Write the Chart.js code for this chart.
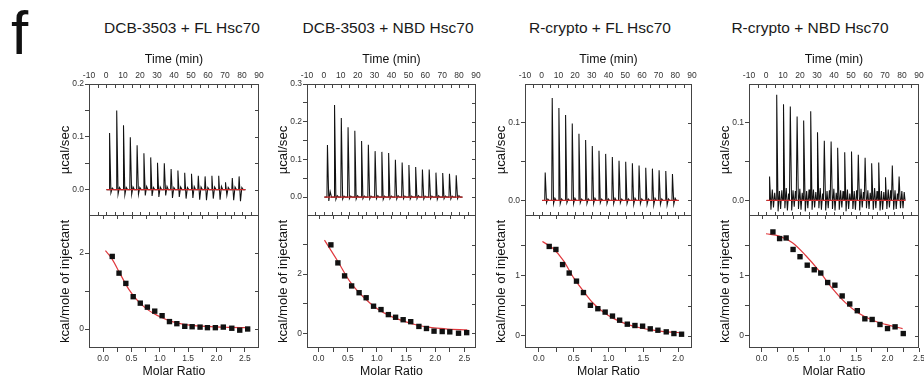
<!DOCTYPE html>
<html>
<head>
<meta charset="utf-8">
<script src="https://cdn.jsdelivr.net/npm/chart.js@4.4.1/dist/chart.umd.min.js"></script>
<style>
body { margin: 0; background: #fff; width: 924px; height: 379px; overflow: hidden; position: relative; font-family: "Liberation Sans", Arial, sans-serif; }
.box { position: absolute; }
.ttl { position: absolute; width: 240px; text-align: center; font-size: 15.5px; line-height: 18px; top: 19px; color: #1a1a1a; }
#tag { position: absolute; left: 11px; top: -2px; font-size: 62px; line-height: 70px; color: #111; }
</style>
</head>
<body>
<div id="tag">f</div>
<div class="ttl" style="left:62px">DCB-3503 + FL Hsc70</div>
<div class="ttl" style="left:268px">DCB-3503 + NBD Hsc70</div>
<div class="ttl" style="left:480px">R-crypto + FL Hsc70</div>
<div class="ttl" style="left:690px">R-crypto + NBD Hsc70</div>
<script>
// injection times (min) and raw trace readings
var injTime = [1.8, 6, 10, 14, 18, 22, 26, 30, 34, 38, 42, 46, 50, 54, 58, 62, 66, 70, 74, 78];
var baseSpan = [0.3, 82];
var timeTicks = [-10, 0, 10, 20, 30, 40, 50, 60, 70, 80, 90];

var p1Peak = [0.107, 0.150, 0.122, 0.099, 0.084, 0.069, 0.061, 0.051, 0.050, 0.039, 0.036, 0.032, 0.030, 0.026, 0.025, 0.026, 0.026, 0.014, 0.022, 0.025];
var p1Dip = [-0.006, -0.009, -0.010, -0.009, -0.009, -0.011, -0.012, -0.014, -0.011, -0.016, -0.014, -0.017, -0.016, -0.019, -0.020, -0.017, -0.019, -0.011, -0.020, -0.022];
var p1Bump = [0.003, 0.004, 0.004, 0.005, 0.004, 0.006, 0.004, 0.005, 0.006, 0.004, 0.005, 0.004, 0.006, 0.005, 0.004, 0.005, 0.006, 0.004, 0.005, 0.004];

var p2Peak = [0.138, 0.244, 0.210, 0.185, 0.176, 0.149, 0.139, 0.122, 0.120, 0.117, 0.099, 0.092, 0.085, 0.080, 0.073, 0.073, 0.065, 0.064, 0.062, 0.058];
var p2Dip = [-0.010, -0.006, -0.005, -0.004, -0.005, -0.004, -0.005, -0.004, -0.006, -0.004, -0.005, -0.004, -0.005, -0.004, -0.005, -0.004, -0.006, -0.004, -0.005, -0.004];
var p2Bump = [0.015, 0.004, 0.003, 0.003, 0.004, 0.003, 0.003, 0.004, 0.003, 0.003, 0.004, 0.003, 0.003, 0.004, 0.003, 0.003, 0.004, 0.003, 0.003, 0.004];

var p3Peak = [0.036, 0.132, 0.119, 0.110, 0.099, 0.086, 0.078, 0.070, 0.064, 0.060, 0.056, 0.051, 0.050, 0.048, 0.045, 0.042, 0.041, 0.039, 0.038, 0.034];
var p3Dip = [-0.003, -0.004, -0.004, -0.003, -0.004, -0.003, -0.004, -0.004, -0.003, -0.004, -0.004, -0.003, -0.004, -0.005, -0.004, -0.005, -0.006, -0.005, -0.006, -0.005];
var p3Bump = [0.002, 0.003, 0.002, 0.002, 0.003, 0.002, 0.002, 0.003, 0.002, 0.002, 0.003, 0.002, 0.002, 0.003, 0.002, 0.002, 0.003, 0.002, 0.002, 0.003];

var p4Peak = [0.031, 0.136, 0.124, 0.121, 0.108, 0.103, 0.115, 0.088, 0.077, 0.076, 0.068, 0.062, 0.063, 0.059, 0.055, 0.048, 0.049, 0.030, 0.045, 0.031];
var p4Dip = [-0.012, -0.014, -0.010, -0.013, -0.011, -0.014, -0.012, -0.010, -0.013, -0.011, -0.012, -0.014, -0.011, -0.013, -0.010, -0.012, -0.013, -0.011, -0.012, -0.010];
var p4Bump = [0.014, 0.012, 0.016, 0.013, 0.015, 0.012, 0.014, 0.016, 0.012, 0.015, 0.013, 0.014, 0.012, 0.015, 0.013, 0.016, 0.012, 0.014, 0.013, 0.012];
var p4Dip2 = [-0.009, -0.011, -0.013, -0.008, -0.012, -0.010, -0.009, -0.012, -0.010, -0.013, -0.009, -0.011, -0.012, -0.009, -0.011, -0.010, -0.012, -0.009, -0.011, -0.010];
var p4Bump2 = [0.010, 0.013, 0.009, 0.012, 0.010, 0.014, 0.011, 0.009, 0.013, 0.010, 0.012, 0.009, 0.013, 0.011, 0.010, 0.012, 0.011, 0.013, 0.009, 0.011];

// integrated heats (kcal/mole of injectant) vs molar ratio
var p1Ratio = [0.16, 0.28, 0.40, 0.53, 0.655, 0.78, 0.91, 1.04, 1.17, 1.30, 1.44, 1.57, 1.71, 1.84, 1.98, 2.12, 2.27, 2.41, 2.55];
var p1Heat = [1.91, 1.47, 1.20, 0.85, 0.68, 0.575, 0.47, 0.35, 0.195, 0.14, 0.07, 0.06, 0.05, 0.035, 0.035, 0.05, 0.02, -0.03, 0.0];
var p1FitX = [0.04, 0.15, 0.30, 0.45, 0.60, 0.75, 0.90, 1.05, 1.20, 1.40, 1.60, 1.90, 2.20, 2.55];
var p1FitY = [2.06, 1.86, 1.45, 1.05, 0.76, 0.55, 0.40, 0.29, 0.20, 0.13, 0.09, 0.06, 0.045, 0.035];

var p2Ratio = [0.21, 0.33, 0.445, 0.566, 0.694, 0.815, 0.942, 1.07, 1.196, 1.32, 1.45, 1.58, 1.72, 1.85, 1.98, 2.12, 2.25, 2.40, 2.54];
var p2Heat = [2.99, 2.38, 1.94, 1.60, 1.37, 1.20, 0.914, 0.80, 0.63, 0.54, 0.457, 0.39, 0.23, 0.16, 0.07, 0.057, 0.046, 0.0, 0.02];
var p2FitX = [0.10, 0.32, 0.55, 0.78, 1.01, 1.24, 1.47, 1.70, 1.94, 2.17, 2.55];
var p2FitY = [3.15, 2.46, 1.71, 1.20, 0.82, 0.57, 0.40, 0.27, 0.19, 0.15, 0.11];

var p3Ratio = [0.148, 0.244, 0.34, 0.435, 0.54, 0.64, 0.74, 0.847, 0.952, 1.057, 1.16, 1.27, 1.38, 1.49, 1.60, 1.71, 1.83, 1.94, 2.05];
var p3Heat = [1.48, 1.43, 1.18, 1.04, 0.906, 0.717, 0.506, 0.45, 0.394, 0.328, 0.26, 0.194, 0.172, 0.161, 0.117, 0.094, 0.067, 0.039, 0.028];
var p3FitX = [0.05, 0.20, 0.35, 0.50, 0.64, 0.78, 0.92, 1.07, 1.26, 1.45, 1.64, 1.83, 2.07];
var p3FitY = [1.56, 1.45, 1.25, 0.96, 0.74, 0.54, 0.40, 0.29, 0.195, 0.135, 0.095, 0.068, 0.052];

var p4Ratio = [0.18, 0.286, 0.39, 0.50, 0.61, 0.725, 0.836, 0.94, 1.05, 1.164, 1.28, 1.40, 1.52, 1.64, 1.756, 1.88, 2.0, 2.12, 2.25];
var p4Heat = [1.72, 1.61, 1.62, 1.43, 1.31, 1.17, 1.094, 1.04, 0.883, 0.839, 0.661, 0.528, 0.417, 0.283, 0.272, 0.189, 0.122, 0.15, 0.039];
var p4FitX = [0.07, 0.28, 0.49, 0.70, 0.91, 1.12, 1.33, 1.55, 1.76, 1.97, 2.24];
var p4FitY = [1.69, 1.65, 1.54, 1.33, 1.08, 0.79, 0.55, 0.37, 0.26, 0.19, 0.12];

// labelled tick values
var p1PowerTicks = [0.0, 0.1, 0.2];
var p2PowerTicks = [0.0, 0.1, 0.2, 0.3];
var p3PowerTicks = [0.0, 0.1];
var p4PowerTicks = [0.0, 0.1];
var p1HeatTicks = [0, 2];
var p2HeatTicks = [0, 2];
var p3HeatTicks = [0, 1];
var p4HeatTicks = [0, 1];
var p1RatioTicks = [0.0, 0.5, 1.0, 1.5, 2.0, 2.5];
var p2RatioTicks = [0.0, 0.5, 1.0, 1.5, 2.0, 2.5];
var p3RatioTicks = [0.0, 0.5, 1.0, 1.5, 2.0];
var p4RatioTicks = [0.0, 0.5, 1.0, 1.5, 2.0, 2.5];

Chart.defaults.font.family = '"Liberation Sans", Arial, sans-serif';
Chart.defaults.color = '#333';
Chart.defaults.animation = false;
Chart.defaults.plugins.legend.display = false;
Chart.defaults.plugins.tooltip.enabled = false;

var INK = '#444';

// box around the plot plus inward ticks on the other sides
var frame = {
    id: 'frame',
    afterDraw: function (chart, args, opts) {
        var ctx = chart.ctx, a = chart.chartArea;
        var l = Math.round(a.left) + 0.5, r = Math.round(a.right) - 0.5;
        var t = Math.round(a.top) + 0.5, b = Math.round(a.bottom) - 0.5;
        var xs = chart.scales.x, ys = chart.scales.y;
        ctx.save();
        ctx.strokeStyle = INK;
        ctx.lineWidth = 1;
        ctx.strokeRect(l, t, r - l, b - t);
        ctx.beginPath();
        xs.ticks.forEach(function (tk) {
            var px = Math.round(xs.getPixelForValue(tk.value)) + 0.5;
            if (px <= l + 1 || px >= r - 1) return;
            if (opts.top) { ctx.moveTo(px, t); ctx.lineTo(px, t + 3.5); }
            if (opts.bottom) { ctx.moveTo(px, b); ctx.lineTo(px, b - 3.5); }
        });
        ys.ticks.forEach(function (tk) {
            var py = Math.round(ys.getPixelForValue(tk.value)) + 0.5;
            if (py <= t + 1 || py >= b - 1) return;
            ctx.moveTo(r, py); ctx.lineTo(r - 3.5, py);
        });
        ctx.stroke();
        ctx.restore();
    }
};

function isIn(list, v) {
    return list.some(function (l) { return Math.abs(l - v) < 1e-9; });
}

function labelOn(list, dec) {
    return function (v) {
        if (!isIn(list, v)) return '';
        return (Math.abs(v) < 1e-9 ? 0 : v).toFixed(dec);
    };
}

function trimEdges(list) {
    return function (s) {
        s.ticks = s.ticks.filter(function (tk) {
            var v = tk.value;
            if (v < s.min - 1e-9 || v > s.max + 1e-9) return false;
            var edge = Math.abs(v - s.min) < 1e-9 || Math.abs(v - s.max) < 1e-9;
            return !edge || isIn(list, v);
        });
    };
}

function buildTrace(peak, dip, bump, dip2, bump2) {
    var pts = [{ x: baseSpan[0], y: 0 }];
    injTime.forEach(function (t, i) {
        pts.push({ x: t, y: 0 }, { x: t + 0.3, y: peak[i] }, { x: t + 1.1, y: dip[i] }, { x: t + 1.9, y: bump[i] });
        if (dip2) {
            pts.push({ x: t + 2.6, y: dip2[i] }, { x: t + 3.3, y: bump2[i] }, { x: t + 3.8, y: 0 });
        } else {
            pts.push({ x: t + 2.7, y: 0 });
        }
    });
    pts.push({ x: baseSpan[1], y: 0 });
    return pts;
}

function pairs(xs, ys) {
    return xs.map(function (x, i) { return { x: x, y: ys[i] }; });
}

function addCanvas(left, top, w, h) {
    var d = document.createElement('div');
    d.className = 'box';
    d.style.left = left + 'px';
    d.style.top = top + 'px';
    d.style.width = w + 'px';
    d.style.height = h + 'px';
    var c = document.createElement('canvas');
    d.appendChild(c);
    document.body.appendChild(d);
    return c;
}

function yAxis(min, max, step, list, dec, title) {
    return {
        type: 'linear', min: min, max: max,
        afterFit: function (s) { s.width = 32; },
        afterBuildTicks: trimEdges(list),
        grid: { drawOnChartArea: false, tickLength: 4, color: INK },
        border: { display: false },
        ticks: { stepSize: step, maxTicksLimit: 1000, includeBounds: false, autoSkip: false, padding: 1, font: { size: 8.5 }, callback: labelOn(list, dec) },
        title: { display: true, text: title, padding: 0, color: '#111', font: { size: 13.2 } }
    };
}

var panels = [
    { left: 89, right: 259, pMin: -0.05, pMax: 0.2, pTicks: p1PowerTicks, peak: p1Peak, dip: p1Dip, bump: p1Bump,
      rMin: -0.25, rMax: 2.75, rTicks: p1RatioTicks, hMin: -0.5, hMax: 3, hStep: 1, hTicks: p1HeatTicks,
      ratio: p1Ratio, heat: p1Heat, fitX: p1FitX, fitY: p1FitY },
    { left: 307, right: 476, pMin: -0.05, pMax: 0.3, pTicks: p2PowerTicks, peak: p2Peak, dip: p2Dip, bump: p2Bump,
      rMin: -0.2, rMax: 2.7, rTicks: p2RatioTicks, hMin: -0.5, hMax: 4, hStep: 1, hTicks: p2HeatTicks,
      ratio: p2Ratio, heat: p2Heat, fitX: p2FitX, fitY: p2FitY },
    { left: 525, right: 692, pMin: -0.02, pMax: 0.15, pTicks: p3PowerTicks, peak: p3Peak, dip: p3Dip, bump: p3Bump,
      rMin: -0.2, rMax: 2.2, rTicks: p3RatioTicks, hMin: -0.2, hMax: 2, hStep: 0.5, hTicks: p3HeatTicks,
      ratio: p3Ratio, heat: p3Heat, fitX: p3FitX, fitY: p3FitY },
    { left: 749, right: 919, pMin: -0.02, pMax: 0.15, pTicks: p4PowerTicks, peak: p4Peak, dip: p4Dip, bump: p4Bump,
      dip2: p4Dip2, bump2: p4Bump2,
      rMin: -0.2, rMax: 2.5, rTicks: p4RatioTicks, hMin: -0.2, hMax: 2, hStep: 0.5, hTicks: p4HeatTicks,
      ratio: p4Ratio, heat: p4Heat, fitX: p4FitX, fitY: p4FitY }
];

panels.forEach(function (p) {
    var w = p.right - p.left + 44;

    // raw heat trace
    new Chart(addCanvas(p.left - 32, 52, w, 174), {
        type: 'scatter',
        data: {
            datasets: [
                { data: [{ x: baseSpan[0], y: 0 }, { x: baseSpan[1], y: 0 }], showLine: true, borderColor: '#cc2a2a', borderWidth: 1.3, pointRadius: 0 },
                { data: buildTrace(p.peak, p.dip, p.bump, p.dip2, p.bump2), showLine: true, borderColor: '#111', borderWidth: 1.05, pointRadius: 0 }
            ]
        },
        options: {
            responsive: true, maintainAspectRatio: false, devicePixelRatio: 1,
            layout: { padding: { left: 0, right: 12, top: 0, bottom: 10 } },
            plugins: { frame: { top: true, bottom: true } },
            scales: {
                x: {
                    type: 'linear', position: 'top', min: -10, max: 90,
                    afterFit: function (s) { s.height = 32; },
                    grid: { display: false, drawTicks: false },
                    border: { display: false },
                    ticks: { stepSize: 5, maxTicksLimit: 1000, autoSkip: false, maxRotation: 0, padding: 3, font: { size: 8.5 }, callback: labelOn(timeTicks, 0) },
                    title: { display: true, text: 'Time (min)', padding: 0, color: '#111', font: { size: 12.3 } }
                },
                y: yAxis(p.pMin, p.pMax, 0.05, p.pTicks, 1, 'µcal/sec')
            }
        },
        plugins: [frame]
    });

    // integrated heats with fitted curve
    new Chart(addCanvas(p.left - 32, 205, w, 174), {
        type: 'scatter',
        data: {
            datasets: [
                { data: pairs(p.ratio, p.heat), pointStyle: 'rect', pointRadius: 3.8, backgroundColor: '#111', borderColor: '#111', borderWidth: 0 },
                { data: pairs(p.fitX, p.fitY), showLine: true, borderColor: '#e0393e', borderWidth: 1.2, pointRadius: 0, cubicInterpolationMode: 'monotone' }
            ]
        },
        options: {
            responsive: true, maintainAspectRatio: false, devicePixelRatio: 1,
            layout: { padding: { left: 0, right: 12, top: 10, bottom: 0 } },
            plugins: { frame: { top: true, bottom: false } },
            scales: {
                x: {
                    type: 'linear', position: 'bottom', min: p.rMin, max: p.rMax,
                    afterFit: function (s) { s.height = 31; },
                    afterBuildTicks: trimEdges(p.rTicks),
                    grid: { drawOnChartArea: false, tickLength: 4, color: INK },
                    border: { display: false },
                    ticks: { stepSize: 0.25, maxTicksLimit: 1000, includeBounds: false, autoSkip: false, maxRotation: 0, padding: 2, font: { size: 8.5 }, callback: labelOn(p.rTicks, 1) },
                    title: { display: true, text: 'Molar Ratio', padding: 0, color: '#111', font: { size: 12.3 } }
                },
                y: yAxis(p.hMin, p.hMax, p.hStep, p.hTicks, 0, 'kcal/mole of injectant')
            }
        },
        plugins: [frame]
    });
});
</script>
</body>
</html>
